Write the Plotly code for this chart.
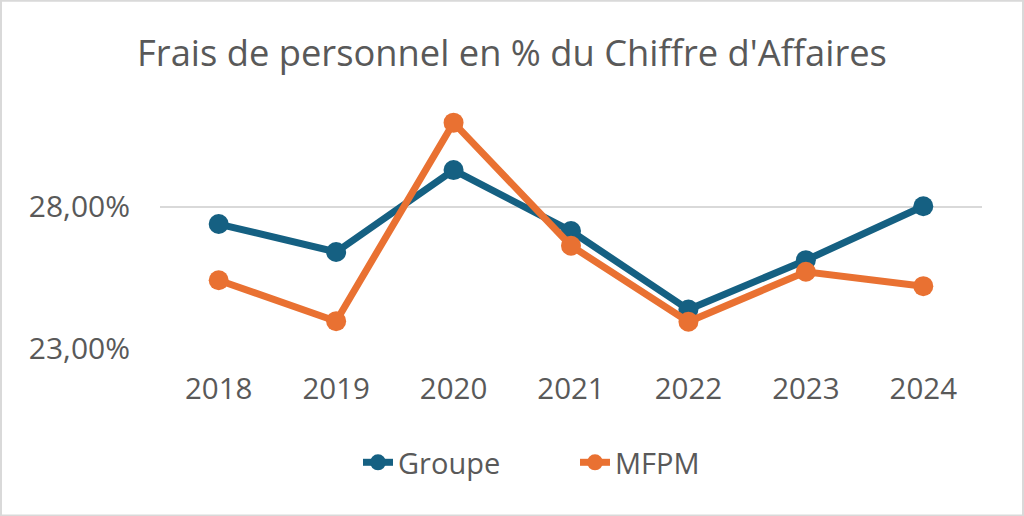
import plotly.graph_objects as go

years = ["2018", "2019", "2020", "2021", "2022", "2023", "2024"]
groupe = [27.39, 26.40, 29.30, 27.14, 24.36, 26.11, 28.02]
mfpm = [25.40, 23.95, 30.98, 26.62, 23.93, 25.70, 25.19]

title_text = "Frais de personnel en % du Chiffre d'Affaires"
font_family = "Open Sans"
text_color = "#595959"

fig = go.Figure()
fig.add_trace(go.Scatter(x=years, y=groupe, name="Groupe", mode="lines+markers",
                         line=dict(color="#156082", width=7),
                         marker=dict(size=20, color="#156082")))
fig.add_trace(go.Scatter(x=years, y=mfpm, name="MFPM", mode="lines+markers",
                         line=dict(color="#E97132", width=7),
                         marker=dict(size=20, color="#E97132")))

W, H = 1024, 516
L, R, T, B = 160, 42, 108, 168.3
pw, ph = W - L - R, H - T - B

def px_to_paper_x(px):
    return (px - L) / pw

def px_to_paper_y(py):
    return (H - B - py) / ph

fig.update_layout(
    width=W, height=H,
    margin=dict(l=L, r=R, t=T, b=B, pad=0),
    paper_bgcolor="white", plot_bgcolor="white",
    separators=", ",
    font=dict(family=font_family, color=text_color, size=28),
    title=dict(text=title_text, x=0.5, xref="container", xanchor="center",
               y=1 - 53 / H, yref="container", yanchor="middle",
               font=dict(size=36.3, color=text_color, family=font_family)),
    showlegend=True,
    legend=dict(orientation="h", x=px_to_paper_x(575), xanchor="center",
                y=px_to_paper_y(462), yanchor="middle",
                entrywidth=172, entrywidthmode="pixels",
                font=dict(size=29, color=text_color)),
    xaxis=dict(type="category", range=[-0.5, len(years) - 0.5],
               showgrid=False, showline=False, zeroline=False,
               ticks="outside", ticklen=15, tickcolor="rgba(0,0,0,0)",
               tickfont=dict(size=29.5, color=text_color)),
    yaxis=dict(range=[23, 31.5], tick0=23, dtick=5, showgrid=True,
               gridcolor="#d9d9d9", gridwidth=1.5, zeroline=False, showline=False,
               ticksuffix="%", tickformat=".2f",
               ticks="outside", ticklen=23, tickcolor="rgba(0,0,0,0)",
               tickfont=dict(size=30, color=text_color)),
    shapes=[dict(type="rect", xref="paper", yref="paper",
                 x0=px_to_paper_x(1), x1=px_to_paper_x(1023),
                 y0=px_to_paper_y(515), y1=px_to_paper_y(1),
                 line=dict(color="#d9d9d9", width=2), layer="below")],
)

fig.write_html("out.html", config={"displayModeBar": False},
               post_script="document.body.style.margin='0';")
